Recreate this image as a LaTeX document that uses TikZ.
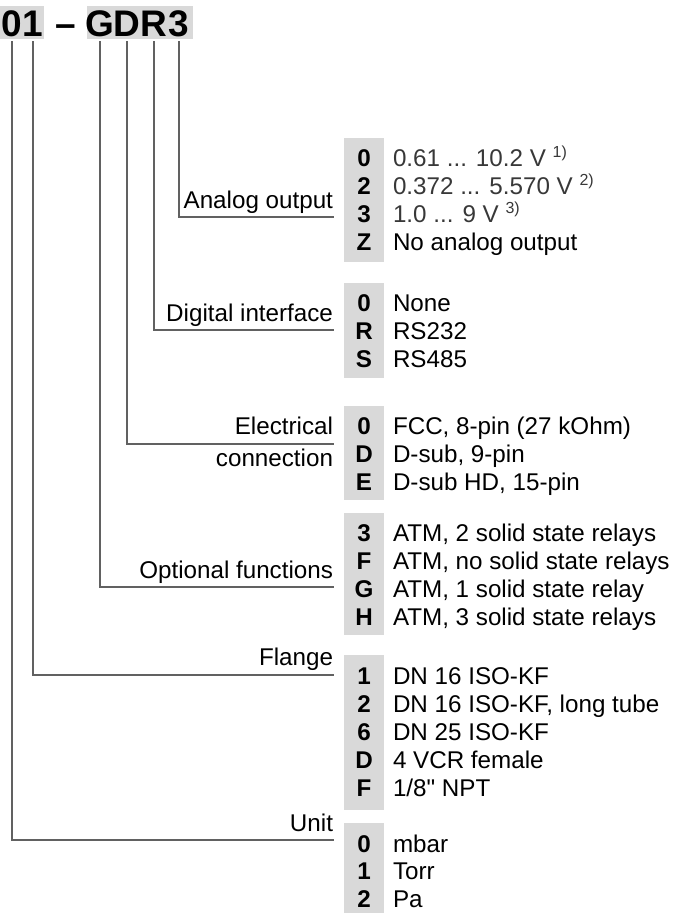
\documentclass[tikz,border=0pt]{standalone}
\usepackage{fontspec}
\setmainfont{Liberation Sans}[Ligatures=TeXOff]
\newcommand\fnmark[1]{\raisebox{8.5pt}{\fontsize{16}{16}\selectfont #1)}}
\begin{document}
\begin{tikzpicture}[x=1pt,y=-1pt]
\tikzset{
  every node/.style={inner sep=0pt, outer sep=0pt},
  body/.style={font=\fontsize{24.2}{28}\selectfont},
  txt/.style={body, anchor=base west},
  txtgray/.style={txt, text=black!78},
  code/.style={body, font=\fontsize{24.2}{28}\selectfont\bfseries, anchor=base},
  lbl/.style={body, anchor=base east},
  ttl/.style={font=\fontsize{37}{40}\selectfont\bfseries, anchor=base},
  lead/.style={draw=black!62, line width=1.3pt},
  codebg/.style={fill=black!15},
}
\useasboundingbox (0,0) rectangle (680,913);

% order code header
\fill[codebg] (0,6) rectangle (44,39);
\fill[codebg] (87,6) rectangle (193,39);
\node[ttl] (h1) at (12,36) {0};
\node[ttl] (h2) at (33,36) {1};
\node[ttl] (hd) at (66,36) {–};
\node[ttl] (h3) at (100,36) {G};
\node[ttl] (h4) at (127,36) {D};
\node[ttl] (h5) at (154,36) {R};
\node[ttl] (h6) at (179,36) {3};

% code column backgrounds
\fill[codebg] (344,138) rectangle (384,262);
\fill[codebg] (344,283) rectangle (384,378);
\fill[codebg] (344,406) rectangle (384,500);
\fill[codebg] (344,513) rectangle (384,635);
\fill[codebg] (344,655) rectangle (384,810);
\fill[codebg] (344,823) rectangle (384,913);

% analog output
\foreach \c/\d [count=\i] in {0/{0.61 ... 10.2 V \fnmark{1}},
    2/{0.372 ... 5.570 V \fnmark{2}},
    3/{1.0 ... 9 V \fnmark{3}}} {
  \node[code] (ao-c\i) at (364,{166+(\i-1)*28.2}) {\c};
  \node[txtgray] (ao-d\i) at (393,{166+(\i-1)*28.2}) {\d};
}
\node[code] (ao-c4) at (364,250.6) {Z};
\node[txt] (ao-d4) at (393,250.6) {No analog output};
\node[lbl] (ao-l) at (333,208) {Analog output};
\coordinate (ao-e) at (334,217);

% digital interface
\foreach \c/\d [count=\i] in {0/None, R/RS232, S/RS485} {
  \node[code] (di-c\i) at (364,{311+(\i-1)*28.2}) {\c};
  \node[txt] (di-d\i) at (393,{311+(\i-1)*28.2}) {\d};
}
\node[lbl] (di-l) at (333,321) {Digital interface};
\coordinate (di-e) at (334,330);

% electrical connection
\foreach \c/\d [count=\i] in {0/{FCC, 8-pin (27 kOhm)}, D/{D-sub, 9-pin}, E/{D-sub HD, 15-pin}} {
  \node[code] (ec-c\i) at (364,{434+(\i-1)*28.2}) {\c};
  \node[txt] (ec-d\i) at (393,{434+(\i-1)*28.2}) {\d};
}
\node[lbl] (ec-l1) at (333,434) {Electrical};
\node[lbl] (ec-l2) at (333,466) {connection};
\coordinate (ec-e) at (334,444);

% optional functions
\foreach \c/\d [count=\i] in {3/{ATM, 2 solid state relays}, F/{ATM, no solid state relays},
    G/{ATM, 1 solid state relay}, H/{ATM, 3 solid state relays}} {
  \node[code] (of-c\i) at (364,{541+(\i-1)*28.2}) {\c};
  \node[txt] (of-d\i) at (393,{541+(\i-1)*28.2}) {\d};
}
\node[lbl] (of-l) at (333,578) {Optional functions};
\coordinate (of-e) at (334,587);

% flange
\foreach \c/\d [count=\i] in {1/{DN 16 ISO-KF}, 2/{DN 16 ISO-KF, long tube}, 6/{DN 25 ISO-KF},
    D/{4 VCR female}, F/{1/8" NPT}} {
  \node[code] (fl-c\i) at (364,{684+(\i-1)*28.2}) {\c};
  \node[txt] (fl-d\i) at (393,{684+(\i-1)*28.2}) {\d};
}
\node[lbl] (fl-l) at (333,665) {Flange};
\coordinate (fl-e) at (334,675);

% unit
\foreach \c/\d [count=\i] in {0/mbar, 1/Torr, 2/Pa} {
  \node[code] (un-c\i) at (364,{852+(\i-1)*27.5}) {\c};
  \node[txt] (un-d\i) at (393,{852+(\i-1)*27.5}) {\d};
}
\node[lbl] (un-l) at (333,831) {Unit};
\coordinate (un-e) at (334,840);

% leader lines from the header characters
\draw[lead] ([yshift=-5pt]h6.south) |- (ao-e);
\draw[lead] ([yshift=-5pt]h5.south) |- (di-e);
\draw[lead] ([yshift=-5pt]h4.south) |- (ec-e);
\draw[lead] ([yshift=-5pt]h3.south) |- (of-e);
\draw[lead] ([yshift=-5pt]h2.south) |- (fl-e);
\draw[lead] ([yshift=-5pt]h1.south) |- (un-e);
\end{tikzpicture}
\end{document}
